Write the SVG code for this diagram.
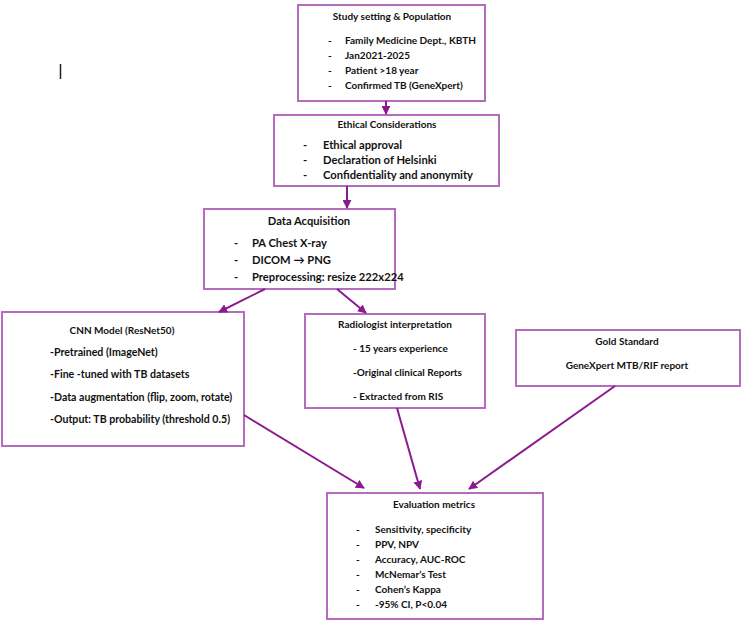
<svg xmlns="http://www.w3.org/2000/svg" width="754" height="624" viewBox="0 0 754 624">
<defs>
<style>
.box{fill:#fff;stroke:#b46cbc;stroke-width:2}
.t{font-family:Lato,"Liberation Sans",sans-serif;font-weight:700;font-size:10px;fill:#111}
.a{font-size:11.2px}
.h{text-anchor:middle}
.conn line{stroke:#8a1a8e;stroke-width:2}
</style>
<marker id="ah" viewBox="0 0 10 10" refX="9" refY="5" markerWidth="4.5" markerHeight="4.5" orient="auto-start-reverse" markerUnits="strokeWidth">
<path d="M0,0 L10,5 L0,10 z" fill="#8a1a8e"/>
</marker>
</defs>
<rect width="754" height="624" fill="#fff"/>
<line x1="60.5" y1="64" x2="60.5" y2="79" stroke="#222" stroke-width="1.5"/>

<g id="study">
<rect class="box" x="298" y="5" width="187" height="96"/>
<text class="t h" x="392" y="20">Study setting &amp; Population</text>
<text class="t" x="328" y="44">-</text><text class="t" x="345" y="44">Family Medicine Dept., KBTH</text>
<text class="t" x="328" y="59">-</text><text class="t" x="345" y="59">Jan2021-2025</text>
<text class="t" x="328" y="74">-</text><text class="t" x="345" y="74">Patient &gt;18 year</text>
<text class="t" x="328" y="89">-</text><text class="t" x="345" y="89">Confirmed TB (GeneXpert)</text>
</g>

<g id="ethics">
<rect class="box" x="274" y="115" width="225" height="71"/>
<text class="t h" x="387" y="128">Ethical Considerations</text>
<text class="t a" x="303" y="149">-</text><text class="t a" x="323" y="149">Ethical approval</text>
<text class="t a" x="303" y="164">-</text><text class="t a" x="323" y="164">Declaration of Helsinki</text>
<text class="t a" x="303" y="179">-</text><text class="t a" x="323" y="179">Confidentiality and anonymity</text>
</g>

<g id="data">
<rect class="box" x="204" y="209" width="191" height="80"/>
<text class="t a h" x="309" y="225">Data Acquisition</text>
<text class="t a" x="234" y="247">-</text><text class="t a" x="252" y="247">PA Chest X-ray</text>
<text class="t a" x="234" y="264">-</text><text class="t a" x="252" y="264">DICOM → PNG</text>
<text class="t a" x="234" y="281">-</text><text class="t a" x="252" y="281">Preprocessing: resize 222x224</text>
</g>

<g id="cnn">
<rect class="box" x="2" y="312" width="242" height="134"/>
<text class="t h" x="122" y="334">CNN Model (ResNet50)</text>
<text class="t" x="50" y="356" style="font-size:10.6px">-Pretrained (ImageNet)</text>
<text class="t" x="50" y="378" style="font-size:10.6px">-Fine -tuned with TB datasets</text>
<text class="t" x="50" y="401" style="font-size:10.6px">-Data augmentation (flip, zoom, rotate)</text>
<text class="t" x="50" y="423" style="font-size:10.6px">-Output: TB probability (threshold 0.5)</text>
</g>

<g id="radiologist">
<rect class="box" x="305" y="314" width="180" height="94"/>
<text class="t h" x="395" y="328">Radiologist interpretation</text>
<text class="t" x="353" y="352">- 15 years experience</text>
<text class="t" x="353" y="376">-Original clinical Reports</text>
<text class="t" x="353" y="400">- Extracted from RIS</text>
</g>

<g id="gold">
<rect class="box" x="516" y="330" width="224" height="56"/>
<text class="t h" x="627" y="345">Gold Standard</text>
<text class="t h" x="627" y="369">GeneXpert MTB/RIF report</text>
</g>

<g id="eval">
<rect class="box" x="327" y="493" width="216" height="126"/>
<text class="t h" x="434" y="508">Evaluation metrics</text>
<text class="t" x="356" y="533">-</text><text class="t" x="375" y="533">Sensitivity, specificity</text>
<text class="t" x="356" y="548">-</text><text class="t" x="375" y="548">PPV, NPV</text>
<text class="t" x="356" y="563">-</text><text class="t" x="375" y="563">Accuracy, AUC-ROC</text>
<text class="t" x="356" y="578">-</text><text class="t" x="375" y="578">McNemar’s Test</text>
<text class="t" x="356" y="593">-</text><text class="t" x="375" y="593">Cohen’s Kappa</text>
<text class="t" x="356" y="608">-</text><text class="t" x="375" y="608">-95% CI, P&lt;0.04</text>
</g>

<g id="connectors" class="conn">
<line x1="386" y1="101" x2="386" y2="114" marker-end="url(#ah)"/>
<line x1="347" y1="186" x2="347" y2="208" marker-end="url(#ah)"/>
<line x1="265" y1="289" x2="219" y2="312" marker-end="url(#ah)"/>
<line x1="337" y1="289" x2="366" y2="313" marker-end="url(#ah)"/>
<line x1="244" y1="415" x2="364" y2="488" marker-end="url(#ah)"/>
<line x1="397" y1="408" x2="420" y2="489" marker-end="url(#ah)"/>
<line x1="615" y1="386" x2="469" y2="489" marker-end="url(#ah)"/>
</g>
</svg>
